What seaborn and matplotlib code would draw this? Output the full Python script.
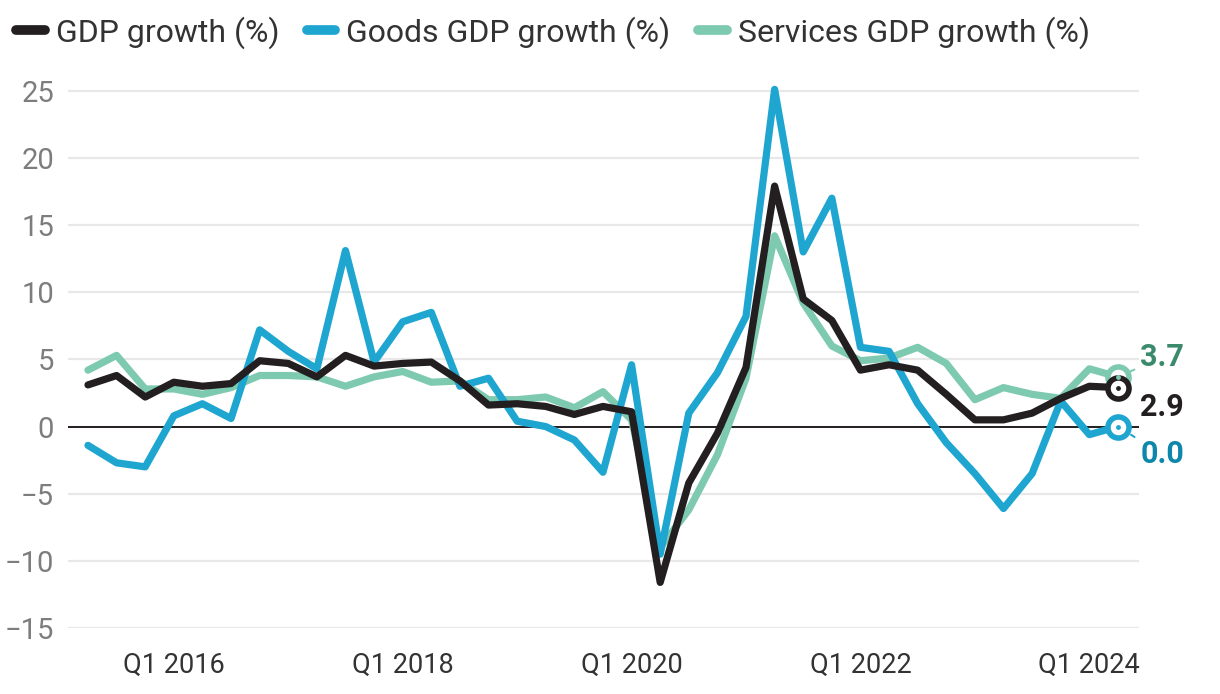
import pandas as pd
import matplotlib
matplotlib.use("Agg")
import matplotlib.pyplot as plt
from matplotlib.lines import Line2D
import seaborn as sns

# quarters Q2 2015 .. Q2 2024
quarters = [str(p).replace("Q", " Q") for p in pd.period_range("2015Q2", "2024Q2", freq="Q")]

gdp = [3.1, 3.8, 2.2, 3.3, 3.0, 3.2, 4.9, 4.7, 3.7, 5.3,
       4.5, 4.7, 4.8, 3.4, 1.6, 1.7, 1.5, 0.9, 1.5, 1.1,
       -11.6, -4.2, -0.5, 4.4, 17.9, 9.5, 7.9, 4.2, 4.6, 4.2,
       2.4, 0.5, 0.5, 1.0, 2.1, 3.0, 2.9]
goods = [-1.4, -2.7, -3.0, 0.8, 1.7, 0.6, 7.2, 5.6, 4.3, 13.1,
         4.8, 7.8, 8.5, 3.0, 3.6, 0.4, 0.0, -1.0, -3.4, 4.6,
         -9.5, 1.0, 4.0, 8.2, 25.1, 13.0, 17.0, 5.9, 5.6, 1.7,
         -1.2, -3.5, -6.1, -3.5, 1.9, -0.6, 0.0]
services = [4.2, 5.3, 2.8, 2.8, 2.4, 2.9, 3.8, 3.8, 3.7, 3.0,
            3.7, 4.1, 3.3, 3.4, 2.0, 2.0, 2.2, 1.4, 2.6, 0.5,
            -9.0, -6.2, -2.1, 3.6, 14.2, 9.2, 6.0, 4.9, 5.1, 5.9,
            4.7, 2.0, 2.9, 2.4, 2.1, 4.3, 3.7]

series_names = ["GDP growth (%)", "Goods GDP growth (%)", "Services GDP growth (%)"]
colors = {"GDP growth (%)": "#231f20",
          "Goods GDP growth (%)": "#1ea6d0",
          "Services GDP growth (%)": "#7ecab0"}
label_colors = {"GDP growth (%)": "#231f20",
                "Goods GDP growth (%)": "#0d87ab",
                "Services GDP growth (%)": "#3b8a6c"}

tick_quarters = ["2016 Q1", "2018 Q1", "2020 Q1", "2022 Q1", "2024 Q1"]
tick_labels = ["Q1 2016", "Q1 2018", "Q1 2020", "Q1 2022", "Q1 2024"]

# long table for seaborn
frames = []
for name, vals in zip(series_names, [gdp, goods, services]):
    frames.append(pd.DataFrame({"pos": range(len(quarters)), "quarter": quarters,
                                "series": name, "value": vals}))
df = pd.concat(frames, ignore_index=True)

sns.set_style("white")
plt.rcParams["font.family"] = ["Roboto", "DejaVu Sans"]

fig = plt.figure(figsize=(12.2, 6.94), dpi=100)
ax = fig.add_axes([0.0557, 0.095, 0.878, 0.813])

# gridlines + zero line
for v in range(-15, 30, 5):
    ax.axhline(v, color="#e8e8e8", lw=1.6, zorder=0)
ax.axhline(0, color="#231f20", lw=1.4, zorder=1)

# draw services first, gdp last (on top)
sns.lineplot(data=df, x="pos", y="value", hue="series",
             hue_order=series_names[::-1], palette=colors,
             linewidth=5.2, legend=False, ax=ax,
             solid_joinstyle="round", solid_capstyle="round", clip_on=False, zorder=3)

# end markers + value labels
last = len(quarters) - 1
offsets = {"GDP growth (%)": (16, -14), "Goods GDP growth (%)": (16, -20),
           "Services GDP growth (%)": (16, 14)}
for name, vals in zip(series_names[::-1], [services, goods, gdp]):
    ax.scatter([last], [vals[-1]], s=230, facecolor="white",
               edgecolor=colors[name], linewidth=4, zorder=5, clip_on=False)
    ax.scatter([last], [vals[-1]], s=6, color=colors[name], zorder=6, clip_on=False)
    dx, dy = offsets[name]
    ax.annotate(f"{vals[-1]:.1f}", xy=(last, vals[-1]), xytext=(dx, dy),
                textcoords="offset points", ha="left", va="center",
                fontsize=22, fontweight="bold", color=label_colors[name],
                arrowprops=dict(arrowstyle="-", color=colors[name], lw=1.5,
                                linestyle=(0, (2, 2)), shrinkA=2, shrinkB=8)
                if name != "GDP growth (%)" else None,
                zorder=6)

ax.set_xlim(-0.7, 36.74)
ax.set_ylim(-15, 27)
ax.set_yticks(range(-15, 30, 5))
ax.set_xticks([quarters.index(q) for q in tick_quarters])
ax.set_xticklabels(tick_labels)
ax.set_xlabel("")
ax.set_ylabel("")
sns.despine(ax=ax, left=True, bottom=True, top=True, right=True)
ax.tick_params(axis="y", length=0, pad=10, labelsize=21, labelcolor="#7d7d7d")
ax.tick_params(axis="x", length=9, width=1.5, color="#e0e0e0", pad=8,
               labelsize=19.5, labelcolor="#333333")

handles = [Line2D([0], [0], color=colors[n], lw=7, solid_capstyle="round") for n in series_names]
fig.legend(handles, series_names, loc="upper left", bbox_to_anchor=(0.0, 1.0),
           borderaxespad=0.2, borderpad=0.3,
           ncol=3, frameon=False, fontsize=23, handlelength=0.9, handletextpad=0.35,
           columnspacing=0.85, labelcolor="#333333")

fig.savefig("out.png", dpi=100)
